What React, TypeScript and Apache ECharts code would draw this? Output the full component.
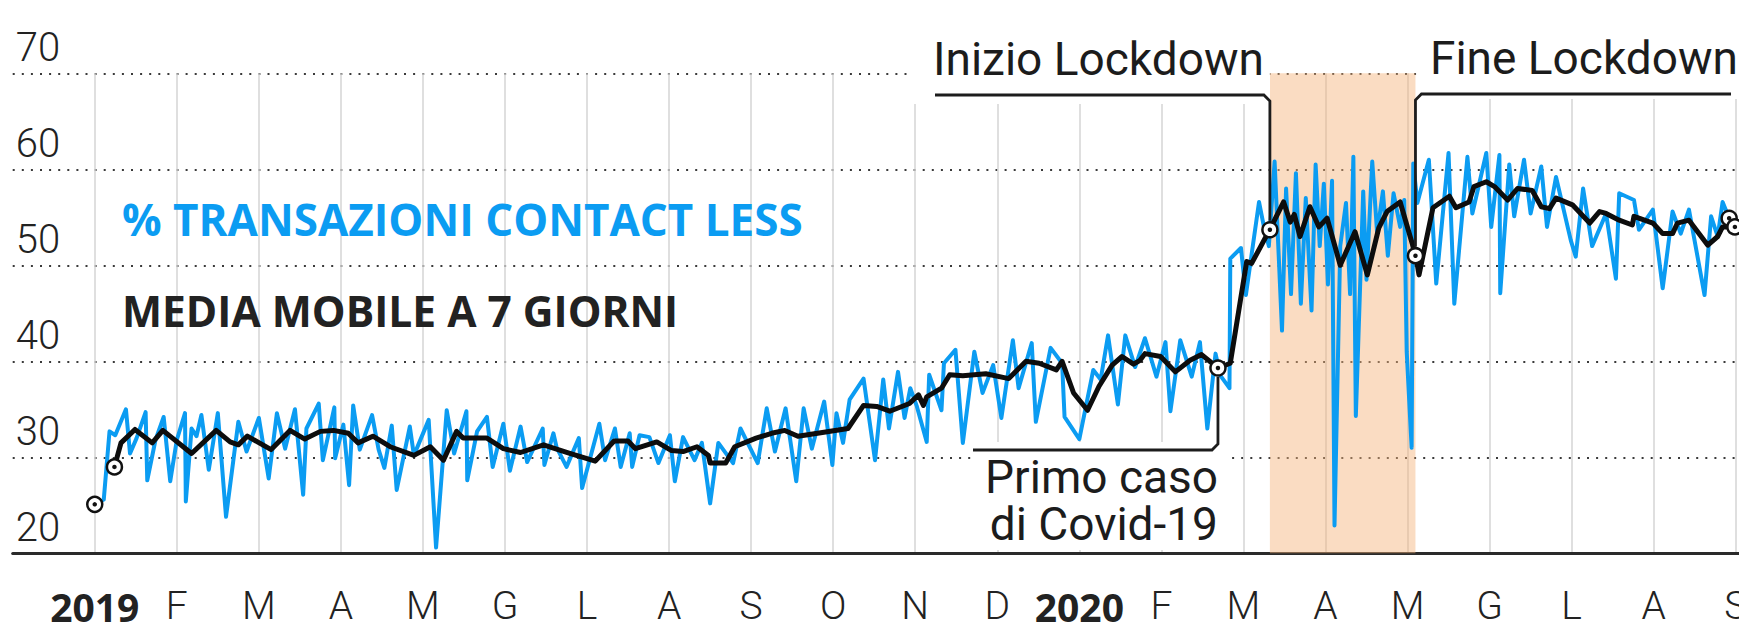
import React, { useEffect, useRef } from 'react';
import * as echarts from 'echarts';

// x values are months since 1 Jan 2019 (0 = Jan 2019, 12 = Jan 2020)
const monthLabels = ['2019','F','M','A','M','G','L','A','S','O','N','D','2020','F','M','A','M','G','L','A','S'];
const yMin = 20;
const yMax = 70;
const yStep = 10;

const daysIn = (y: number, m: number) => new Date(y, m, 0).getDate();
const monthPos = (y: number, m: number, d: number) => (y - 2019) * 12 + (m - 1) + (d - 1) / daysIn(y, m);

// % transazioni contact less (daily pattern, main vertices)
const contactless: [number, number][] = [
[0.00,25.1],[0.11,25.6],[0.18,32.7],[0.25,32.3],[0.38,35.0],[0.43,30.4],[0.51,32.0],[0.62,34.7],[0.64,27.6],[0.74,31.8],
[0.84,34.2],[0.92,27.5],[1.00,31.8],[1.10,34.6],[1.11,25.4],[1.18,33.0],[1.24,32.2],[1.30,34.4],[1.39,28.7],[1.50,34.6],
[1.60,23.8],[1.75,33.7],[1.85,30.6],[2.00,34.1],[2.12,27.8],[2.22,34.6],[2.32,30.9],[2.44,35.0],[2.54,26.1],[2.58,33.0],
[2.73,35.6],[2.78,29.7],[2.92,35.2],[2.93,29.9],[3.03,33.4],[3.10,27.1],[3.15,35.4],[3.23,30.8],[3.38,34.4],[3.46,30.8],
[3.53,28.9],[3.62,33.3],[3.68,26.6],[3.84,33.2],[3.89,30.2],[4.07,33.9],[4.16,20.6],[4.29,34.9],[4.38,30.4],[4.53,34.8],
[4.54,27.6],[4.66,32.7],[4.78,34.2],[4.85,29.0],[4.98,33.5],[5.06,28.6],[5.19,33.2],[5.27,29.5],[5.46,33.0],[5.48,29.2],
[5.59,32.5],[5.63,31.0],[5.75,29.0],[5.90,32.0],[5.94,26.8],[6.15,33.5],[6.22,29.7],[6.34,33.0],[6.41,29.0],[6.52,32.5],
[6.55,29.0],[6.64,32.3],[6.76,32.1],[6.87,29.4],[7.01,32.3],[7.07,27.5],[7.17,32.1],[7.31,29.7],[7.40,31.5],[7.50,25.2],
[7.60,31.5],[7.78,29.4],[7.87,33.0],[8.08,29.4],[8.19,35.1],[8.29,30.6],[8.42,35.1],[8.55,27.5],[8.64,35.1],[8.74,30.9],
[8.89,35.8],[8.99,29.2],[9.04,34.6],[9.12,31.5],[9.20,36.0],[9.37,38.2],[9.51,29.7],[9.61,38.1],[9.68,33.0],[9.79,38.9],
[9.87,34.1],[9.94,37.2],[10.02,35.3],[10.14,31.6],[10.17,38.6],[10.32,34.9],[10.35,39.8],[10.49,41.2],[10.58,31.5],[10.72,41.0],
[10.82,36.7],[10.95,39.6],[11.05,34.1],[11.19,42.2],[11.26,37.2],[11.42,41.9],[11.47,33.7],[11.65,41.4],[11.79,39.8],[11.82,34.2],
[12.00,31.9],[12.17,39.1],[12.26,38.1],[12.35,42.7],[12.47,35.5],[12.56,42.7],[12.68,39.4],[12.80,42.4],[12.94,38.4],[13.05,42.0],
[13.11,34.8],[13.23,42.2],[13.37,38.4],[13.47,42.0],[13.56,33.0],[13.66,40.8],[13.72,38.5],[13.83,37.2],[13.84,50.7],[13.97,51.8],
[14.03,46.9],[14.19,56.6],[14.25,54.0],[14.31,52.0],[14.38,60.8],[14.47,43.2],[14.52,58.0],[14.58,47.0],[14.64,59.6],[14.70,46.0],
[14.76,57.0],[14.83,45.3],[14.88,60.5],[14.93,52.0],[14.98,58.5],[15.03,48.0],[15.08,58.8],[15.11,22.9],[15.18,52.0],[15.25,56.5],
[15.30,47.0],[15.34,61.3],[15.37,34.3],[15.46,57.7],[15.50,48.5],[15.57,60.8],[15.63,53.3],[15.70,57.7],[15.76,51.0],[15.83,57.5],
[15.91,54.0],[15.96,56.8],[15.99,41.0],[16.05,31.0],[16.07,60.6],[16.12,56.5],[16.26,61.0],[16.35,48.1],[16.50,61.7],[16.57,46.0],
[16.73,61.3],[16.79,55.4],[16.96,61.7],[17.02,54.0],[17.12,61.5],[17.13,47.1],[17.24,60.5],[17.30,55.1],[17.42,61.0],[17.50,55.4],
[17.63,60.3],[17.70,54.0],[17.81,59.2],[17.99,52.6],[18.05,50.9],[18.14,58.0],[18.25,52.0],[18.42,55.4],[18.54,48.6],[18.58,57.5],
[18.76,56.8],[18.82,53.7],[18.99,55.8],[19.11,47.6],[19.23,55.6],[19.33,53.3],[19.43,55.8],[19.62,46.9],[19.70,55.1],[19.78,53.0],
[19.84,56.6],[19.92,54.9]
];

// media mobile a 7 giorni
const movingAvg: [number, number][] = [
[0.24,29.0],[0.32,31.5],[0.49,32.9],[0.70,31.5],[0.83,32.8],[1.18,30.4],[1.48,32.8],[1.65,31.6],[1.75,31.3],[1.86,32.2],
[2.15,30.8],[2.38,32.8],[2.56,31.9],[2.75,32.7],[2.91,32.8],[3.09,32.5],[3.21,31.5],[3.39,32.2],[3.60,31.1],[3.89,30.2],
[4.09,31.1],[4.25,29.7],[4.41,32.7],[4.49,32.0],[4.78,32.0],[4.98,30.9],[5.19,30.5],[5.47,31.3],[5.61,30.9],[5.79,30.4],
[6.10,29.6],[6.33,31.7],[6.50,31.7],[6.59,30.9],[6.85,31.6],[7.03,30.7],[7.17,30.6],[7.34,31.1],[7.48,30.2],[7.50,29.4],
[7.69,29.4],[7.80,31.1],[8.06,32.0],[8.25,32.5],[8.41,32.8],[8.57,32.2],[8.81,32.5],[9.18,33.0],[9.37,35.4],[9.53,35.3],
[9.69,34.8],[9.93,35.6],[10.04,36.5],[10.10,35.4],[10.14,36.3],[10.32,37.2],[10.42,38.6],[10.58,38.5],[10.86,38.7],[11.14,38.2],
[11.35,40.0],[11.51,39.8],[11.72,39.1],[11.79,40.0],[11.93,36.7],[12.10,34.9],[12.24,37.4],[12.40,39.6],[12.52,40.5],[12.66,39.7],
[12.74,40.1],[12.80,40.8],[12.99,40.5],[13.17,38.9],[13.35,40.1],[13.49,40.7],[13.69,39.3],[13.84,39.8],[14.04,50.4],[14.10,50.2],
[14.32,53.7],[14.49,56.6],[14.57,54.5],[14.62,55.3],[14.69,53.0],[14.81,56.1],[14.92,54.0],[15.02,54.9],[15.18,50.0],[15.36,53.5],
[15.51,49.0],[15.65,53.9],[15.75,55.6],[15.91,56.6],[16.10,51.0],[16.14,49.0],[16.31,56.0],[16.51,57.2],[16.59,56.0],[16.75,56.6],
[16.81,58.2],[16.96,58.7],[17.06,58.2],[17.22,56.8],[17.34,58.0],[17.52,57.8],[17.63,56.1],[17.73,55.9],[17.81,57.0],[18.01,56.3],
[18.22,54.4],[18.34,55.6],[18.42,55.4],[18.58,54.7],[18.74,54.2],[18.76,55.1],[18.99,54.4],[19.11,53.3],[19.23,53.3],[19.29,54.4],
[19.43,54.7],[19.66,52.1],[19.78,53.0],[19.84,54.0],[19.99,54.0]
];

// events
const primoCaso: [number, number] = [monthPos(2020, 2, 21), 39.3];
const inizioLockdown: [number, number] = [monthPos(2020, 3, 11), 53.7];
const fineLockdown: [number, number] = [monthPos(2020, 5, 4), 51.0];

const markers: [number, number][] = [
  [0, 25.1], [0.24, 29.0], primoCaso, inizioLockdown, fineLockdown, [19.92, 54.9], [19.99, 54.0],
];

const BLUE = '#0b9cf2';
const INK = '#1c1c1c';
const FONT = 'Roboto';
const TITLE_FONT = 'Open Sans';

export default function App() {
  const ref = useRef<HTMLDivElement>(null);
  useEffect(() => {
    if (!ref.current) return;
    const chart = echarts.init(ref.current, undefined, { renderer: 'svg' });
    chart.setOption({
      animation: false,
      backgroundColor: '#fff',
      grid: { left: 12.7, right: 0, top: 73.3, bottom: 72.7, containLabel: false, outerBoundsMode: 'none' },
      xAxis: {
        type: 'value',
        min: -1,
        max: 20.04,
        interval: 1,
        axisLine: { show: true, lineStyle: { color: '#2a2a2a', width: 3 } },
        axisTick: { show: false },
        splitLine: { show: true, showMinLine: false, showMaxLine: false, lineStyle: { color: '#d4d4d4', width: 1.5 } },
        axisLabel: {
          margin: 38,
          formatter: (v: number) => {
            const i = Math.round(v);
            if (Math.abs(v - i) > 1e-6 || i < 0 || i >= monthLabels.length) return '';
            const s = monthLabels[i];
            return /^\d{4}$/.test(s) ? `{b|${s}}` : `{n|${s}}`;
          },
          rich: {
            b: { fontSize: 39, fontWeight: 'bold', fontFamily: TITLE_FONT, color: '#222', lineHeight: 30 },
            n: { fontSize: 39, fontWeight: 300, fontFamily: FONT, color: '#222', lineHeight: 30 },
          },
        },
      },
      yAxis: {
        type: 'value',
        min: yMin,
        max: yMax,
        interval: yStep,
        axisLine: { show: false },
        axisTick: { show: false },
        splitLine: {
          show: true, showMinLine: false, showMaxLine: true,
          lineStyle: { color: '#3a3a3a', width: 2, type: [2, 7.1] },
        },
        axisLabel: {
          inside: true,
          margin: 3,
          fontSize: 40,
          fontWeight: 300,
          fontFamily: FONT,
          color: '#222',
          lineHeight: 52,
          verticalAlign: 'bottom',
        },
      },
      series: [
        {
          type: 'line',
          name: 'lockdown',
          data: [],
          z: 1,
          markArea: {
            silent: true,
            itemStyle: { color: 'rgba(243,178,120,0.45)' },
            data: [[{ xAxis: inizioLockdown[0], yAxis: yMin }, { xAxis: fineLockdown[0], yAxis: yMax }]],
          },
        },
        {
          type: 'line',
          name: 'contactless',
          data: contactless,
          showSymbol: false,
          symbol: 'none',
          z: 3,
          lineStyle: { color: BLUE, width: 4, join: 'round' },
        },
        {
          type: 'line',
          name: 'media mobile',
          data: movingAvg,
          showSymbol: false,
          symbol: 'none',
          z: 4,
          lineStyle: { color: '#0d0d0d', width: 5, join: 'round' },
        },
        {
          type: 'scatter',
          data: markers,
          z: 6,
          symbolSize: 15,
          itemStyle: { color: '#fff', borderColor: '#111', borderWidth: 2.5, opacity: 1 },
        },
        {
          type: 'scatter',
          data: markers,
          z: 7,
          symbolSize: 4.5,
          itemStyle: { color: '#111', opacity: 1 },
        },
      ],
    });

    const px = (p: [number, number]) => chart.convertToPixel({ gridIndex: 0 }, p) as number[];
    const [ix, iy] = px(inizioLockdown);
    const [fx, fy] = px(fineLockdown);
    const [cx, cy] = px(primoCaso);
    const txt = (text: string, x: number, y: number, align: string, extra: any = {}) => ({
      type: 'text', x, y, z: 20,
      style: { text, fontSize: 46, lineHeight: 44, fontFamily: FONT, fill: INK, align, verticalAlign: 'middle', ...extra },
    });
    const lineStyle = { stroke: INK, lineWidth: 2.8, fill: null, lineJoin: 'miter' };

    chart.setOption({
      graphic: [
        { type: 'rect', z: 1, shape: { x: 913, y: 8, width: ix - 913, height: 96 }, style: { fill: '#fff' } },
        { type: 'rect', z: 1, shape: { x: fx + 1, y: 8, width: 1739 - fx, height: 91 }, style: { fill: '#fff' } },
        { type: 'rect', z: 1, shape: { x: 972, y: 442, width: 256, height: 108 }, style: { fill: '#fff' } },
        txt('% TRANSAZIONI CONTACT LESS', 122, 219, 'left', { fill: BLUE, fontSize: 44, fontWeight: 'bold', fontFamily: TITLE_FONT }),
        txt('MEDIA MOBILE A 7 GIORNI', 122, 310, 'left', { fill: '#222', fontSize: 42.5, fontWeight: 'bold', fontFamily: TITLE_FONT }),
        txt('Inizio Lockdown', 933, 59, 'left'),
        txt('Fine Lockdown', 1430, 58, 'left'),
        txt('Primo caso\ndi Covid-19', cx, 500, 'right', { lineHeight: 47 }),
        { type: 'polyline', z: 5, shape: { points: [[935, 95], [ix - 6, 95], [ix, 101], [ix, iy - 9]] }, style: lineStyle },
        { type: 'polyline', z: 5, shape: { points: [[fx, fy - 9], [fx, 100], [fx + 6, 94], [1731, 94]] }, style: lineStyle },
        { type: 'polyline', z: 5, shape: { points: [[973, 450], [cx - 6, 450], [cx, 444], [cx, cy + 9]] }, style: lineStyle },
      ],
    });

    return () => chart.dispose();
  }, []);

  return (
    <div
      ref={ref}
      style={{ position: 'absolute', left: 0, top: 0, width: 1739, height: 626, background: '#fff' }}
    />
  );
}
